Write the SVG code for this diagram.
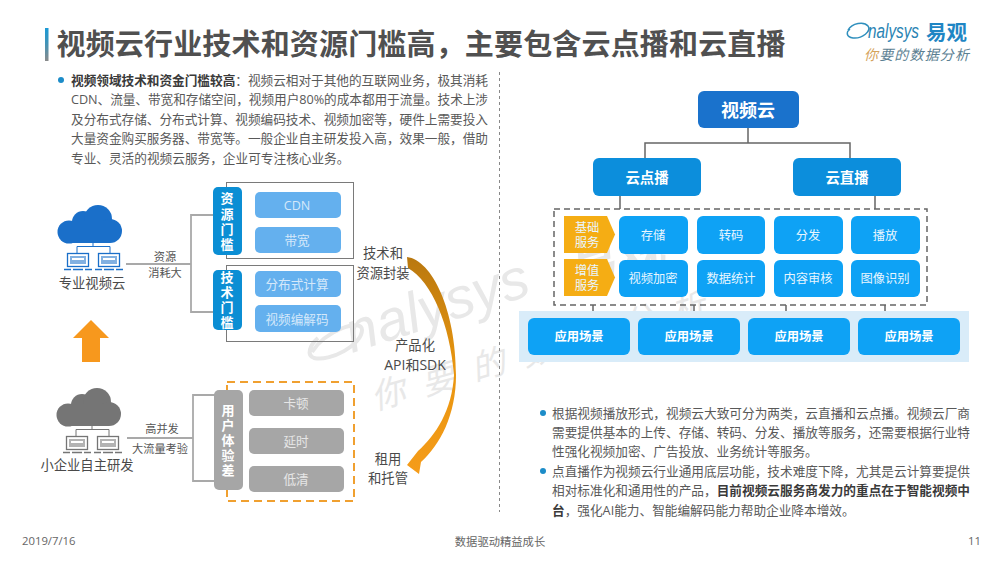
<svg xmlns="http://www.w3.org/2000/svg" xmlns:xlink="http://www.w3.org/1999/xlink" width="1000" height="563" viewBox="0 0 1000 563">
<style>
text{font-family:"Open Sans","Noto Sans CJK SC",sans-serif;}
.m{text-anchor:middle;dominant-baseline:central;}
.body{font-size:12.67px;fill:#595959;}
.body tspan{font-weight:700;fill:#3a3a3a;}
.lab{font-size:13.3px;fill:#4a4a4a;}
.sm{font-size:11.2px;fill:#555;}
.tab{font-size:13px;font-weight:700;fill:#fff;}
.cl{font-size:12.6px;fill:#d4e8fa;}
.cg{font-size:12.6px;fill:#e6e6e6;}
.cw{font-size:12.3px;fill:#e9f6ff;}
.cb{font-size:12.3px;font-weight:700;fill:#fff;}
.foot{font-size:11.3px;fill:#666;}
.lc{fill:none;stroke:#a9a9a9;stroke-width:1.8;}
.dc{fill:none;stroke:#666;stroke-width:1.5;}
</style>
<defs>
<linearGradient id="bar" x1="0" y1="0" x2="0" y2="1"><stop offset="0" stop-color="#1a9ad6"/><stop offset=".45" stop-color="#3f93b8"/><stop offset="1" stop-color="#8a8a8a"/></linearGradient>
<linearGradient id="sw" x1="0" y1="0" x2="0" y2="1"><stop offset="0" stop-color="#b9780f"/><stop offset=".5" stop-color="#e8950f"/><stop offset="1" stop-color="#f59c1a"/></linearGradient>
<g id="net">
<circle cx="12" cy="27" r="11.5" fill="currentColor"/><circle cx="26" cy="17" r="11" fill="currentColor"/><circle cx="41" cy="14" r="14" fill="currentColor"/><circle cx="53" cy="26" r="12" fill="currentColor"/><rect x="12" y="16" width="41" height="22" fill="currentColor"/>
<path d="M36 38V41.500M20 48V41.500H53V48" fill="none" stroke="currentColor" stroke-width="1"/>
<rect x="10.500" y="48.500" width="21" height="13" fill="none" stroke="currentColor" stroke-width="1.300"/><rect x="13" y="51" width="16" height="8" fill="currentColor" opacity=".55"/><rect x="15" y="53" width="12" height="2" fill="#fff"/>
<rect x="41.500" y="48.500" width="21" height="13" fill="none" stroke="currentColor" stroke-width="1.300"/><rect x="44" y="51" width="16" height="8" fill="currentColor" opacity=".55"/><rect x="46" y="53" width="12" height="2" fill="#fff"/>
<path d="M7 64.500H14M16 64.500H26M28 64.500H35M38 64.500H45M47 64.500H57M59 64.500H66" fill="none" stroke="currentColor" stroke-width="1.300"/>
</g>
</defs>
<rect width="1000" height="563" fill="#fff"/>

<g id="watermark" fill="#e8e8e8">
<path d="M312 352C326 330 362 318 362 330C362 345 330 362 314 358C306 355 310 345 318 338" fill="none" stroke="#e8e8e8" stroke-width="4"/>
<text x="352" y="353" transform="rotate(-18 352 353)" font-size="57" font-style="italic" style="font-family:'Liberation Sans',sans-serif">nalysys</text>
<text x="572" y="292" transform="rotate(-18 572 292)" font-size="50" font-weight="700" font-style="italic">易观</text>
<text x="375" y="410" transform="rotate(-16 375 410)" font-size="34" font-style="italic" letter-spacing="18">你要的数据分析</text>
</g>

<g id="title">
<rect x="45" y="28" width="3.500" height="33" fill="url(#bar)"/>
<text x="56.500" y="55" font-size="29" font-weight="700" fill="#505050" textLength="729">视频云行业技术和资源门槛高，主要包含云点播和云直播</text>
</g>

<g id="logo">
<path d="M848 30C852 23 864 21 868 26C872 31 862 39 853 38C846 37 846 32 850 29" fill="none" stroke="#2f8fbd" stroke-width="1.500"/>
<text x="868" y="38" font-size="20" font-style="italic" fill="#2a84b4" style="font-family:'Liberation Sans',sans-serif" textLength="51" lengthAdjust="spacingAndGlyphs">nalysys</text>
<text x="926" y="40" font-size="20.500" font-weight="700" fill="#1f86c4">易观</text>
<text x="864" y="60" font-size="14" font-style="italic" fill="#5c7f92" textLength="105"><tspan fill="#d5a35c">你</tspan>要的数据分析</text>
</g>

<g id="divider"><path d="M499.500 72V512" fill="none" stroke="#888" stroke-width="1" stroke-dasharray="3 3"/></g>

<g id="left-text">
<circle cx="61" cy="80" r="3" fill="#1c8cc8"/>
<text class="body" x="71" y="84.500" textLength="417"><tspan>视频领域技术和资金门槛较高</tspan>：视频云相对于其他的互联网业务，极其消耗</text>
<text class="body" x="71" y="104" textLength="417">CDN、流量、带宽和存储空间，视频用户80%的成本都用于流量。技术上涉</text>
<text class="body" x="71" y="123.500" textLength="417">及分布式存储、分布式计算、视频编码技术、视频加密等，硬件上需要投入</text>
<text class="body" x="71" y="143" textLength="417">大量资金购买服务器、带宽等。一般企业自主研发投入高，效果一般，借助</text>
<text class="body" x="71" y="162.500">专业、灵活的视频云服务，企业可专注核心业务。</text>
</g>

<g id="connectors">
<path class="lc" d="M126 264H191M213 215H191V312H213"/>
<path class="lc" d="M127 438H193M215 395H193V481H215"/>
<path class="dc" d="M748 128V143M645 158V143H850V158M620 196V209M875 196V209M593 305V318M694 305V318M786 305V318M885 305V318"/>
</g>

<g id="pro-cloud" color="#1a6fc9"><use xlink:href="#net" href="#net" x="57" y="205"/><text class="lab m" x="92" y="283">专业视频云</text></g>
<g id="edge-res"><text class="sm m" x="165" y="256">资源</text><text class="sm m" x="165" y="272">消耗大</text></g>
<g id="up-arrow"><path d="M91 320L109 338H100V362H82V338H73Z" fill="#f7981d"/></g>
<g id="small-cloud" color="#757575"><use xlink:href="#net" href="#net" x="56" y="388"/><text class="lab m" x="87" y="465">小企业自主研发</text></g>
<g id="edge-ux"><text class="sm m" x="162" y="428">高并发</text><text class="sm m" x="160" y="448">大流量考验</text></g>

<g id="res-group">
<rect x="226.500" y="182.500" width="127" height="76" fill="none" stroke="#7a7a7a" stroke-width="1"/>
<rect x="213" y="187" width="29" height="68" rx="5" fill="#0b8ed4"/>
<text class="tab m" x="227" y="198">资</text><text class="tab m" x="227" y="214">源</text><text class="tab m" x="227" y="229">门</text><text class="tab m" x="227" y="244">槛</text>
<rect x="255" y="192" width="86" height="26" rx="5" fill="#64b0ee"/><text class="cl m" x="297" y="205">CDN</text>
<rect x="255" y="227" width="86" height="26" rx="5" fill="#64b0ee"/><text class="cl m" x="297" y="240">带宽</text>
</g>
<g id="tech-group">
<rect x="226.500" y="265.500" width="127" height="76" fill="none" stroke="#7a7a7a" stroke-width="1"/>
<rect x="213" y="270" width="29" height="60" rx="5" fill="#0b8ed4"/>
<text class="tab m" x="227" y="277">技</text><text class="tab m" x="227" y="292">术</text><text class="tab m" x="227" y="307">门</text><text class="tab m" x="227" y="322">槛</text>
<rect x="255" y="271" width="86" height="26" rx="5" fill="#64b0ee"/><text class="cl m" x="297" y="284">分布式计算</text>
<rect x="255" y="305" width="86" height="27" rx="5" fill="#64b0ee"/><text class="cl m" x="297" y="319">视频编解码</text>
</g>
<g id="ux-group">
<rect x="227" y="382" width="127" height="119" fill="none" stroke="#f0a030" stroke-width="2" stroke-dasharray="8 5"/>
<rect x="214" y="390" width="29" height="100" rx="5" fill="#a6a6a6"/>
<text class="tab m" x="228" y="410">用</text><text class="tab m" x="228" y="425">户</text><text class="tab m" x="228" y="440">体</text><text class="tab m" x="228" y="455">验</text><text class="tab m" x="228" y="470">差</text>
<rect x="249" y="390" width="95" height="26" rx="5" fill="#a6a6a6"/><text class="cg m" x="296" y="403">卡顿</text>
<rect x="249" y="428" width="95" height="26" rx="5" fill="#a6a6a6"/><text class="cg m" x="296" y="441">延时</text>
<rect x="249" y="466" width="95" height="26" rx="5" fill="#a6a6a6"/><text class="cg m" x="296" y="479">低清</text>
</g>

<g id="swoosh">
<path d="M407 257C432 260 456 310 456 375C456 415 440 445 421 462L419 474L407 465L418 451C436 435 452 410 454 375C450 325 432 282 408 268Z" fill="url(#sw)"/>
<text class="lab m" x="383" y="253">技术和</text><text class="lab m" x="383" y="273">资源封装</text>
<text class="lab m" x="415" y="345">产品化</text><text class="lab m" x="415" y="364" style="font-size:14px">API和SDK</text>
<text class="lab m" x="388" y="459">租用</text><text class="lab m" x="388" y="478">和托管</text>
</g>

<g id="node-root"><rect x="698" y="91" width="101" height="37" rx="6" fill="#1a72cc"/><text class="m" x="748" y="110" font-size="18" font-weight="700" fill="#fff">视频云</text></g>
<g id="node-vod"><rect x="593" y="158" width="108" height="38" rx="6" fill="#0c8edc"/><text class="m" x="647" y="177" font-size="14.400" font-weight="700" fill="#fff">云点播</text></g>
<g id="node-live"><rect x="793" y="158" width="108" height="38" rx="6" fill="#0c8edc"/><text class="m" x="847" y="177" font-size="14.400" font-weight="700" fill="#fff">云直播</text></g>

<g id="services">
<rect x="554" y="209" width="373" height="96" fill="none" stroke="#666" stroke-width="1.500" stroke-dasharray="6 4"/>
<path d="M564 216H607L615 234.500L607 253H564Z" fill="#f5ad14"/><path d="M564 259H607L615 277.500L607 296H564Z" fill="#f5ad14"/>
<text class="cw m" x="587" y="227">基础</text><text class="cw m" x="587" y="242">服务</text><text class="cw m" x="587" y="270">增值</text><text class="cw m" x="587" y="285">服务</text>
<g fill="#0ea2f5">
<rect x="619" y="216" width="69" height="38" rx="6"/><rect x="697" y="216" width="68" height="38" rx="6"/><rect x="774" y="216" width="69" height="38" rx="6"/><rect x="851" y="216" width="69" height="38" rx="6"/>
<rect x="619" y="260" width="69" height="37" rx="6"/><rect x="697" y="260" width="68" height="37" rx="6"/><rect x="774" y="260" width="69" height="37" rx="6"/><rect x="851" y="260" width="69" height="37" rx="6"/>
</g>
<text class="cw m" x="653" y="235">存储</text><text class="cw m" x="731" y="235">转码</text><text class="cw m" x="808" y="235">分发</text><text class="cw m" x="885" y="235">播放</text>
<text class="cw m" x="653" y="278">视频加密</text><text class="cw m" x="731" y="278">数据统计</text><text class="cw m" x="808" y="278">内容审核</text><text class="cw m" x="885" y="278">图像识别</text>
</g>

<g id="scenes">
<rect x="519" y="311" width="450" height="51" fill="#d9ecf9"/>
<g fill="#0ea2f5"><rect x="528" y="318" width="102" height="37" rx="6"/><rect x="638" y="318" width="102" height="37" rx="6"/><rect x="748" y="318" width="102" height="37" rx="6"/><rect x="858" y="318" width="102" height="37" rx="6"/></g>
<text class="cb m" x="579" y="336">应用场景</text><text class="cb m" x="689" y="336">应用场景</text><text class="cb m" x="799" y="336">应用场景</text><text class="cb m" x="909" y="336">应用场景</text>
</g>

<g id="right-text">
<circle cx="543" cy="413" r="3" fill="#1c8cc8"/><circle cx="543" cy="471" r="3" fill="#1c8cc8"/>
<text class="body" x="552" y="417.500" textLength="418">根据视频播放形式，视频云大致可分为两类，云直播和云点播。视频云厂商</text>
<text class="body" x="552" y="436.500" textLength="418">需要提供基本的上传、存储、转码、分发、播放等服务，还需要根据行业特</text>
<text class="body" x="552" y="456">性强化视频加密、广告投放、业务统计等服务。</text>
<text class="body" x="552" y="475.500" textLength="418">点直播作为视频云行业通用底层功能，技术难度下降，尤其是云计算要提供</text>
<text class="body" x="552" y="495" textLength="418">相对标准化和通用性的产品，<tspan>目前视频云服务商发力的重点在于智能视频中</tspan></text>
<text class="body" x="552" y="514.500"><tspan>台</tspan>，强化AI能力、智能编解码能力帮助企业降本增效。</text>
</g>

<g id="footer">
<text class="foot" x="22" y="545">2019/7/16</text>
<text class="foot" x="500" y="546" text-anchor="middle">数据驱动精益成长</text>
<text class="foot" x="968" y="545">11</text>
</g>
</svg>
